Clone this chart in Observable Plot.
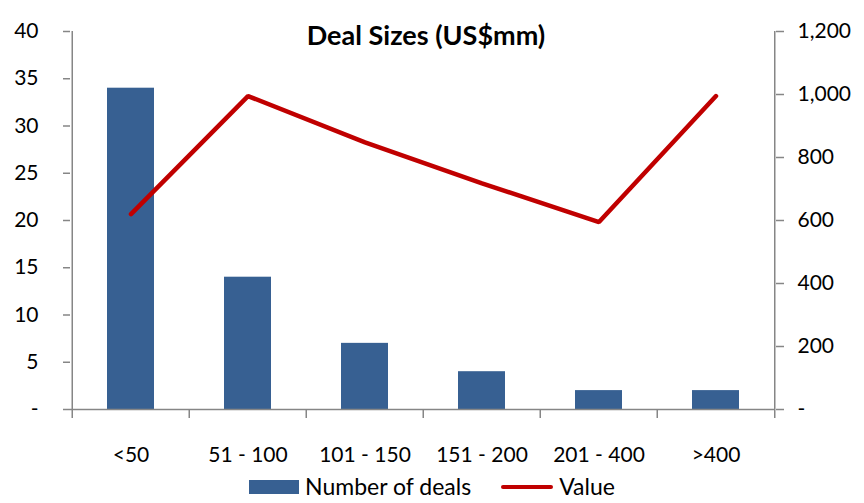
<!DOCTYPE html>
<html><head><meta charset="utf-8">
<script src="https://cdn.jsdelivr.net/npm/d3@7"></script>
<script src="https://cdn.jsdelivr.net/npm/@observablehq/plot@0.6"></script>
<style>
body{margin:0;background:#fff;font-family:Lato,"Open Sans",sans-serif;}
#legend{position:relative;width:864px;height:33px;display:flex;justify-content:center;align-items:center;font-size:23px;color:#000;padding-left:0px;box-sizing:border-box;margin-top:0;line-height:1;}
.sw{display:inline-block;width:50px;height:14px;background:#376092;margin-right:6px;}
.ln{display:inline-block;width:52px;height:4px;background:#C00000;border-radius:2px;margin-left:30px;margin-right:6px;}
</style></head><body><div id="chart"></div>
<div id="legend"><span class="sw"></span><span>Number of deals</span><span class="ln"></span><span>Value</span></div>
<script>
const title = "Deal Sizes (US$mm)";
const categories = ["<50", "51 - 100", "101 - 150", "151 - 200", "201 - 400", ">400"];
const deals = [34, 14, 7, 4, 2, 2];
const values = [620, 995, 848, 718, 595, 995];
const leftTicks = [0, 5, 10, 15, 20, 25, 30, 35, 40];
const rightTicks = [0, 200, 400, 600, 800, 1000, 1200];
const ratio = 1200 / 40;

const data = categories.map((c, i) => ({cat: c, deals: deals[i], value: values[i]}));
const W = 864, H = 470, mL = 70, mR = 89, mT = 31, mB = 61;
const step = (W - mL - mR) / categories.length;
const gray = "#868686";
const fmt = d3.format(",");
const first = categories[0], last = categories[categories.length - 1];

const chart = Plot.plot({
  width: W, height: H,
  marginLeft: mL, marginRight: mR, marginTop: mT, marginBottom: mB,
  style: {fontFamily: "Lato, 'Open Sans', sans-serif", fontSize: "21px", color: "#000", background: "#fff"},
  x: {type: "band", domain: categories, paddingInner: 0.6, paddingOuter: 0.3},
  y: {domain: [0, 40]},
  marks: [
    Plot.barY(data, {x: "cat", y: "deals", fill: "#376092"}),
    Plot.ruleY([0], {stroke: gray, strokeWidth: 1.5}),
    Plot.ruleX(categories, {x: d => d, dx: -step / 2, y1: 0, y2: -0.95, stroke: gray, strokeWidth: 1.5}),
    Plot.ruleX([last], {x: d => d, dx: step / 2, y1: 0, y2: -0.95, stroke: gray, strokeWidth: 1.5}),
    Plot.ruleX([first], {x: d => d, dx: -step / 2, y1: 0, y2: 40, stroke: gray, strokeWidth: 1.5}),
    Plot.ruleX([last], {x: d => d, dx: step / 2, y1: 0, y2: 40, stroke: gray, strokeWidth: 1.5}),
    Plot.axisY({anchor: "left", ticks: leftTicks, tickSize: 7, tickPadding: 25, stroke: gray, strokeWidth: 1.5, strokeOpacity: 1, fill: "#000", label: null,
      tickFormat: d => d === 0 ? "-" : String(d)}),
    Plot.axisY({anchor: "right", ticks: rightTicks.map(v => v / ratio), tickSize: 8, tickPadding: 14, stroke: gray, strokeWidth: 1.5, strokeOpacity: 1, fill: "#000", label: null, textAnchor: "start",
      tickFormat: d => d === 0 ? "-" : fmt(Math.round(d * ratio))}),
    Plot.axisX({anchor: "bottom", tickSize: 0, tickPadding: 38, label: null, fill: "#000"}),
    Plot.line(data, {x: "cat", y: d => d.value / ratio, stroke: "#C00000", strokeWidth: 4.5, strokeLinecap: "round", strokeLinejoin: "miter"}),
    Plot.text([title], {frameAnchor: "top", dy: -6, dx: 3, fontWeight: "bold", fontSize: 27, fill: "#000"})
  ]
});
document.getElementById("chart").appendChild(chart);
</script></body></html>
